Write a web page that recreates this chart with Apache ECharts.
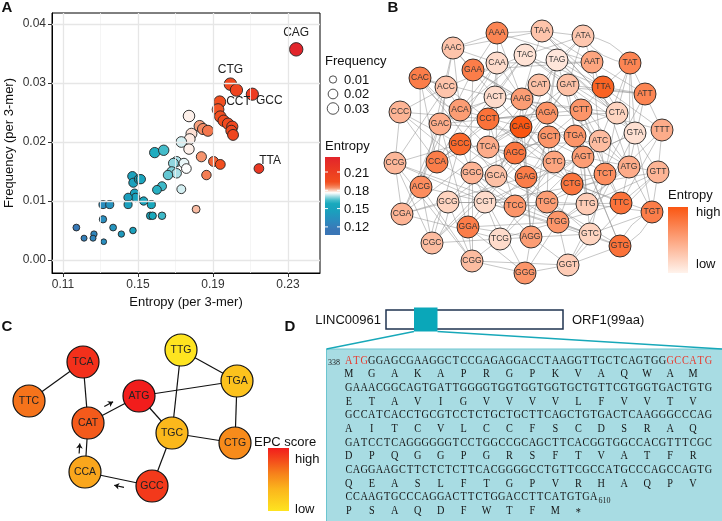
<!DOCTYPE html>
<html>
<head>
<meta charset="utf-8">
<script src="https://cdn.jsdelivr.net/npm/echarts@6/dist/echarts.min.js"></script>
<style>
html,body{margin:0;padding:0;background:#fff}
#main{width:722px;height:521px}
</style>
</head>
<body>
<div id="main"></div>
<script>
// ---- panel A : entropy vs frequency of 3-mers ----
var entropyA = [0.2344,0.1993,0.2025,0.2110,0.1936,0.1927,0.1939,0.1957,0.1980,0.2003,0.1998,0.2007,
    0.2145,0.1903,0.1939,0.1865,0.1838,0.1810,0.1829,0.1847,0.1873,0.1772,0.1785,0.1776,0.1731,0.1772,
    0.1706,0.1689,0.1745,0.1758,0.1680,0.1706,0.1660,0.1731,0.1589,0.1637,0.1628,0.1601,0.1628,0.1565,
    0.1578,0.1470,0.1475,0.1505,0.1515,0.1482,0.1487,0.1447,0.1447,0.1530,0.1571,0.1313,0.1349,0.1313,
    0.1171,0.1367,0.1473,0.1411,0.1265,0.1212,0.1260,0.1317];
var freqA = [0.0357,0.0298,0.0288,0.0281,0.0268,0.0255,0.0243,0.0236,0.0231,0.0226,0.0219,0.0212,
    0.0155,0.0167,0.0162,0.0144,0.0175,0.0086,0.0227,0.0222,0.0219,0.0244,0.0214,0.0205,0.0200,0.0188,
    0.0167,0.0164,0.0164,0.0155,0.0150,0.0147,0.0144,0.0120,0.0182,0.0186,0.0125,0.0119,0.0075,0.0075,
    0.0075,0.0142,0.0131,0.0137,0.0137,0.0113,0.0106,0.0106,0.0094,0.0100,0.0094,0.0094,0.0094,0.0069,
    0.0055,0.0055,0.0050,0.0044,0.0044,0.0037,0.0037,0.0031];
var labelIdxA = [0,1,3,4,12];
var labelNameA = ['CAG','CTG','GCC','CCT','TTA'];
var xTicksA = [0.11,0.15,0.19,0.23];
var xMinorA = [0.13,0.17,0.21];
var yTicksA = [0,0.01,0.02,0.03,0.04];
var yMinorA = [0.005,0.015,0.025,0.035];
var freqLegend = [0.01,0.02,0.03];
var entLegend = [0.21,0.18,0.15,0.12];

// ---- panel B : 3-mer network ----
var nodesB = ['AAA','TAA','ATA','AAC','TAC','TAG','AAT','TAT','GAA','CAA','CAC','ACC','CAT','GAT','TTA','ATT',
    'CCC','ACT','AAG','ACA','CCT','CAG','AGA','CTT','CTA','TTT','GAC','GTA','GCC','TCA','AGC','GCT',
    'TGA','ATC','CCG','CCA','GGC','GCA','GAG','CTC','AGT','TCT','ATG','GTT','ACG','CTG','GCG','CGT',
    'TCC','TGC','TTG','TTC','TGT','CGA','GGA','TCG','AGG','TGG','GTC','GTG','CGC','CGG','GGG','GGT'];
var bx = [117,162,203,73,145,177,212,250,93,117,40,66,159,188,223,265,
    20,115,142,80,108,141,167,201,237,282,60,255,80,108,135,169,
    195,220,15,57,92,116,146,174,203,225,249,278,41,192,68,105,
    135,167,207,241,272,22,88,120,151,178,210,240,52,92,145,188];
var by = [33,31,36,48,55,60,62,63,70,63,78,87,85,85,87,94,
    112,97,99,110,119,127,113,110,113,130,124,133,144,147,153,137,
    136,141,163,162,173,176,177,162,157,174,167,172,187,184,202,202,
    206,202,204,203,212,214,227,239,237,222,234,246,243,261,273,265];
var entB = [0.70,0.30,0.28,0.30,0.10,0.08,0.50,0.70,0.75,0.15,0.75,0.30,0.32,0.32,0.92,0.70,
    0.40,0.15,0.55,0.55,0.82,1.00,0.62,0.60,0.20,0.45,0.45,0.12,0.88,0.45,0.80,0.60,
    0.60,0.35,0.38,0.75,0.40,0.32,0.75,0.50,0.55,0.65,0.45,0.40,0.65,0.80,0.20,0.15,
    0.60,0.55,0.25,0.82,0.75,0.40,0.75,0.15,0.55,0.60,0.20,0.82,0.35,0.35,0.60,0.25];

// ---- panel C : EPC sub network ----
var nodesC = ['TCA','TTC','CAT','ATG','TTG','TGA','TGC','CTG','CCA','GCC'];
var cx = [83,29,88,139,181,237,172,235,85,152];
var cy = [42,81,103,76,30,61,113,123,152,166];
var epcC = [0.92,0.65,0.75,1.00,0.00,0.25,0.33,0.55,0.42,0.88];
var arrowsC = [['CAT','ATG'],['CCA','CAT'],['GCC','CCA']];

// ---- panel D : ORF sequence ----
var ntRows = ['ATGGGAGCGAAGGCTCCGAGAGGACCTAAGGTTGCTCAGTGGGCCATG',
    'GAAACGGCAGTGATTGGGGTGGTGGTGGTGCTGTTCGTGGTGACTGTG',
    'GCCATCACCTGCGTCCTCTGCTGCTTCAGCTGTGACTCAAGGGCCCAG',
    'GATCCTCAGGGGGGTCCTGGCCGCAGCTTCACGGTGGCCACGTTTCGC',
    'CAGGAAGCTTCTCTCTTCACGGGGCCTGTTCGCCATGCCCAGCCAGTG',
    'CCAAGTGCCCAGGACTTCTGGACCTTCATGTGA'];
var aaRows = ['MGAKAPRGPKVAQWAM','ETAVIGVVVVLFVVTV','AITCVLCCFSCDSRAQ',
    'DPQGGPGRSFTVATFR','QEASLFTGPVRHAQPV','PSAQDFWTFM*'];
var redRanges = [[0,3],[42,48]];   // start codon + downstream ATG in the first row
var seqStart = '338', seqEnd = '610';

// colour helpers
var stopsA = [[0.115,'#3a76b6'],[0.13,'#2b8bbe'],[0.145,'#1b9fbd'],[0.158,'#18a9bd'],[0.164,'#46bdcb'],
    [0.169,'#92d7df'],[0.173,'#d3eef2'],[0.176,'#ffffff'],[0.178,'#fce6dc'],[0.181,'#f9bca3'],
    [0.184,'#f6916a'],[0.189,'#f2683c'],[0.194,'#f24d1e'],[0.21,'#ec3d21'],[0.235,'#e2242b']];
var stopsB = [[0,'#fff3ec'],[1,'#fa5612']];
var stopsC = [[0,'#fee420'],[0.35,'#fbb51c'],[0.6,'#f6801b'],[0.85,'#f3401b'],[1,'#f21d1c']];

function hexRgb(h){
    return [parseInt(h.substr(1,2),16),parseInt(h.substr(3,2),16),parseInt(h.substr(5,2),16)];
}
function ramp(stops,v){
    if(v<=stops[0][0]) return stops[0][1];
    for(var i=1;i<stops.length;i++){
        if(v<=stops[i][0]){
            var t=(v-stops[i-1][0])/(stops[i][0]-stops[i-1][0]);
            var a=hexRgb(stops[i-1][1]), b=hexRgb(stops[i][1]);
            return 'rgb('+a.map(function(x,k){return Math.round(x+(b[k]-x)*t);}).join(',')+')';
        }
    }
    return stops[stops.length-1][1];
}
function sizeA(f){ return 2.5+58*Math.sqrt(f); }

var font = 'Liberation Sans';
var chart = echarts.init(document.getElementById('main'));

// scatter data
var labelPos = {
    CAG:{position:'top',distance:3},
    CTG:{position:'top',distance:2},
    CCT:{position:'right',distance:0},
    GCC:{position:'right',distance:-3,offset:[0,6]},
    TTA:{position:'right',distance:-5,offset:[0,-8]}
};
var dataA = entropyA.map(function(e,i){
    var item = {value:[e,freqA[i]], itemStyle:{color:ramp(stopsA,e)}};
    var k = labelIdxA.indexOf(i);
    if(k>=0){
        item.name = labelNameA[k];
        item.label = Object.assign({show:true,formatter:'{b}',fontSize:12,color:'#222',fontFamily:font},labelPos[labelNameA[k]]);
    }
    return item;
});

// grid lines through the axis scales
var gridLines = [];
xMinorA.forEach(function(v){gridLines.push({xAxis:v,lineStyle:{color:'#f2f2f2',width:0.8}});});
yMinorA.forEach(function(v){gridLines.push({yAxis:v,lineStyle:{color:'#f2f2f2',width:0.8}});});
xTicksA.forEach(function(v){gridLines.push({xAxis:v,lineStyle:{color:'#e6e6e6',width:1.3}});});
yTicksA.forEach(function(v){gridLines.push({yAxis:v,lineStyle:{color:'#e6e6e6',width:1.3}});});

// network B: edges where 2-letter suffix matches 2-letter prefix
var nodeDataB = nodesB.map(function(n,i){
    return {name:n,value:[bx[i],by[i]],itemStyle:{color:ramp(stopsB,entB[i])}};
});
function overlapLinks(names,curv){
    var links=[];
    names.forEach(function(a){
        names.forEach(function(b){
            if(a!==b && a.slice(1)===b.slice(0,2)){
                var both = b.slice(1)===a.slice(0,2);
                links.push({source:a,target:b,lineStyle:{curveness:both?curv:0}});
            }
        });
    });
    return links;
}
var linksB = overlapLinks(nodesB,0.25);

var nodeDataC = nodesC.map(function(n,i){
    return {name:n,value:[cx[i],cy[i]],itemStyle:{color:ramp(stopsC,epcC[i])}};
});
var linksC = overlapLinks(nodesC,0);

var arrowData = arrowsC.map(function(p){
    var a=nodesC.indexOf(p[0]), b=nodesC.indexOf(p[1]);
    var dx=cx[b]-cx[a], dy=cy[b]-cy[a], L=Math.sqrt(dx*dx+dy*dy);
    var ux=dx/L, uy=dy/L;
    var mx=cx[a]+dx*0.47+uy*7, my=cy[a]+dy*0.47-ux*7;
    return {coords:[[mx-ux*5,my-uy*5],[mx+ux*5,my+uy*5]]};
});

// legends / panel D graphics
var g = [];
function txt(x,y,s,opt,extra){
    g.push(Object.assign({type:'text',x:x,y:y,silent:true,
        style:Object.assign({text:s,fill:'#111',fontSize:13,fontFamily:font,align:'left',verticalAlign:'middle'},opt||{})},extra||{}));
}
txt(7,8,'A',{fontSize:15,fontWeight:'bold',align:'center'});
txt(393,8,'B',{fontSize:15,fontWeight:'bold',align:'center'});
txt(7,327,'C',{fontSize:15,fontWeight:'bold',align:'center'});
txt(290,327,'D',{fontSize:15,fontWeight:'bold',align:'center'});

// frequency size legend
txt(325,61,'Frequency');
freqLegend.forEach(function(f,i){
    g.push({type:'circle',silent:true,shape:{cx:333,cy:79.5+i*14.5,r:sizeA(f)/2-0.5},style:{fill:'#fff',stroke:'#222',lineWidth:0.8}});
    txt(344,80+i*14.5,f.toFixed(2));
});
// entropy colour bar
var barTop=157, barBot=235;
function entY(v){ return 172+(0.21-v)/0.03*18.3; }
var vTop=0.21+(172-barTop)/18.3*0.03, vBot=0.21-(barBot-172)/18.3*0.03;
var csA=[{offset:0,color:ramp(stopsA,vTop)}];
stopsA.slice().reverse().forEach(function(s){
    if(s[0]<vTop && s[0]>vBot) csA.push({offset:(vTop-s[0])/(vTop-vBot),color:s[1]});
});
csA.push({offset:1,color:ramp(stopsA,vBot)});
txt(325,146,'Entropy');
g.push({type:'rect',silent:true,shape:{x:325,y:barTop,width:15,height:barBot-barTop},
    style:{fill:new echarts.graphic.LinearGradient(0,0,0,1,csA)}});
entLegend.forEach(function(v){
    var y=entY(v);
    g.push({type:'line',silent:true,shape:{x1:325,y1:y,x2:328,y2:y},style:{stroke:'#fff',lineWidth:1}});
    g.push({type:'line',silent:true,shape:{x1:337,y1:y,x2:340,y2:y},style:{stroke:'#fff',lineWidth:1}});
    txt(344,y+1,v.toFixed(2));
});

// entropy legend B
txt(668,195,'Entropy');
g.push({type:'rect',silent:true,shape:{x:668,y:207,width:20,height:66},
    style:{fill:new echarts.graphic.LinearGradient(0,0,0,1,[{offset:0,color:stopsB[1][1]},{offset:1,color:stopsB[0][1]}])}});
txt(696,212,'high');
txt(696,264,'low');

// EPC legend C
txt(254,442,'EPC score');
g.push({type:'rect',silent:true,shape:{x:268,y:448,width:21,height:63},
    style:{fill:new echarts.graphic.LinearGradient(0,0,0,1,stopsC.slice().reverse().map(function(s){return {offset:1-s[0],color:s[1]};}))}});
txt(295,459,'high');
txt(295,509,'low');

// panel D : transcript model
txt(381,320,'LINC00961',{align:'right'});
txt(572,320,'ORF1(99aa)');
g.push({type:'rect',silent:true,shape:{x:326.5,y:349,width:400,height:180},style:{fill:'#a8dce3',stroke:'#6cc5d0',lineWidth:1}});
g.push({type:'line',silent:true,shape:{x1:414,y1:331.5,x2:326.5,y2:349},style:{stroke:'#17a8b9',lineWidth:1.5}});
g.push({type:'line',silent:true,shape:{x1:437.5,y1:331.5,x2:722,y2:349},style:{stroke:'#17a8b9',lineWidth:1.5}});
g.push({type:'rect',silent:true,shape:{x:386,y:310,width:177,height:19},style:{fill:'#fff',stroke:'#1f3350',lineWidth:1.5}});
g.push({type:'rect',silent:true,shape:{x:414,y:307.5,width:23.5,height:24},style:{fill:'#0aa7b9'}});

// sequence: one glyph per cell so codons and residues line up
var serif='Liberation Serif', fs=13.5, cw=7.65, x0=345, pitch=13.67;
var red='#e8392d', ink='#151515';
function isRed(r,i){
    if(r!==0) return false;
    return redRanges.some(function(q){return i>=q[0] && i<q[1];});
}
function glyph(x,y,ch,col){
    txt(x,y,ch,{fontFamily:serif,fontSize:fs,fill:col,align:'center'},{scaleX:0.76});
}
ntRows.forEach(function(row,r){
    var y=360+2*r*pitch;
    row.split('').forEach(function(ch,i){
        glyph(x0+(i+0.5)*cw,y,ch,isRed(r,i)?red:ink);
    });
    aaRows[r].split('').forEach(function(ch,k){
        glyph(x0+(3*k+0.5)*cw,y+pitch+(ch==='*'?2:0),ch,ink);
    });
});
txt(328,363,seqStart,{fontFamily:serif,fontSize:8,fill:'#222'});
txt(x0+ntRows[5].length*cw+1,501,seqEnd,{fontFamily:serif,fontSize:8,fill:'#222'});

var axisTxt = {color:'#333',fontSize:12,fontFamily:font};

var option = {
    backgroundColor:'#fff',
    animation:false,
    grid:[
        {left:52,top:13,width:268,height:260,show:true,borderColor:'#000',borderWidth:1,backgroundColor:'#fff',outerBoundsMode:'none'},
        {left:380,top:0,width:320,height:290,outerBoundsMode:'none'},
        {left:0,top:320,width:280,height:200,outerBoundsMode:'none'}
    ],
    xAxis:[
        {gridIndex:0,type:'value',min:0.1041,max:0.2471,
            axisLine:{show:true,onZero:false,lineStyle:{color:'#000',width:1}},
            axisTick:{show:true,customValues:xTicksA,length:4,lineStyle:{color:'#333'}},
            axisLabel:Object.assign({customValues:xTicksA,margin:6,formatter:function(v){return v.toFixed(2);}},axisTxt),
            splitLine:{show:false},
            name:'Entropy (per 3-mer)',nameLocation:'middle',nameGap:23,
            nameTextStyle:{color:'#111',fontSize:13,fontFamily:font}},
        {gridIndex:1,type:'value',min:0,max:320,show:false},
        {gridIndex:2,type:'value',min:0,max:280,show:false}
    ],
    yAxis:[
        {gridIndex:0,type:'value',min:-0.0022,max:0.04186,
            axisLine:{show:true,onZero:false,lineStyle:{color:'#000',width:1}},
            axisTick:{show:true,customValues:yTicksA,length:4,lineStyle:{color:'#333'}},
            axisLabel:Object.assign({customValues:yTicksA,margin:6,formatter:function(v){return v.toFixed(2);}},axisTxt),
            splitLine:{show:false},
            name:'Frequency (per 3-mer)',nameLocation:'middle',nameGap:36,
            nameTextStyle:{color:'#111',fontSize:13,fontFamily:font}},
        {gridIndex:1,type:'value',min:0,max:290,inverse:true,show:false},
        {gridIndex:2,type:'value',min:0,max:200,inverse:true,show:false}
    ],
    graphic:{elements:g},
    series:[
        {type:'scatter',xAxisIndex:0,yAxisIndex:0,data:[],z:1,silent:true,
            markLine:{silent:true,symbol:['none','none'],label:{show:false},animation:false,
                lineStyle:{type:'solid'},emphasis:{disabled:true},data:gridLines}},
        {type:'scatter',xAxisIndex:0,yAxisIndex:0,z:3,data:dataA,
            symbolSize:function(v){return sizeA(v[1]);},
            itemStyle:{borderColor:'#222',borderWidth:0.9,opacity:1},
            emphasis:{disabled:true}},
        {type:'graph',coordinateSystem:'cartesian2d',xAxisIndex:1,yAxisIndex:1,z:2,
            symbol:'circle',symbolSize:22,data:nodeDataB,links:linksB,
            lineStyle:{color:'#8a8a8a',width:0.9,opacity:0.55},
            itemStyle:{borderColor:'#222',borderWidth:0.9},
            label:{show:true,position:'inside',fontSize:8.5,color:'#333',fontFamily:font},
            emphasis:{disabled:true}},
        {type:'graph',coordinateSystem:'cartesian2d',xAxisIndex:2,yAxisIndex:2,z:2,
            symbol:'circle',symbolSize:32,data:nodeDataC,links:linksC,
            lineStyle:{color:'#111',width:1.2,opacity:1},
            itemStyle:{borderColor:'#111',borderWidth:1.2},
            label:{show:true,position:'inside',fontSize:10.5,color:'#222',fontFamily:font},
            emphasis:{disabled:true}},
        {type:'lines',coordinateSystem:'cartesian2d',xAxisIndex:2,yAxisIndex:2,z:3,
            symbol:['none','arrow'],symbolSize:5,
            lineStyle:{color:'#111',width:1.2,opacity:1},
            data:arrowData}
    ]
};
chart.setOption(option);
</script>
</body>
</html>
